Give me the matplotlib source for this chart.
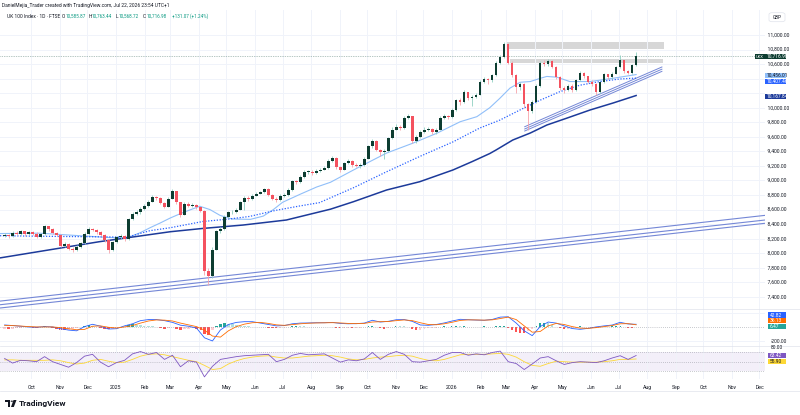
import numpy as np
import pandas as pd
import matplotlib
matplotlib.use("Agg")
import matplotlib.pyplot as plt
import matplotlib.dates as mdates
from matplotlib.patches import Rectangle, Circle, Polygon, FancyBboxPatch
from matplotlib.lines import Line2D

plt.rcParams["font.family"] = ["Roboto", "DejaVu Sans"]

W, H = 800, 415

closes = [
    8250, 8230, 8280, 8270, 8300, 8260, 8290, 8270, 8220, 8260,
    8370, 8330, 8280, 8250, 8100, 8130, 8060, 8050, 8090, 8140,
    8270, 8330, 8320, 8290, 8250, 8180, 8050, 8150, 8220, 8230,
    8190, 8470, 8540, 8560, 8610, 8650, 8710, 8770, 8760, 8690,
    8640, 8750, 8850, 8700, 8530, 8680, 8650, 8660, 8630, 8580,
    7750, 7680, 8050, 8300, 8330, 8500, 8560, 8570, 8600, 8700,
    8760, 8740, 8790, 8820, 8840, 8880, 8800, 8750, 8730, 8790,
    8800, 8870, 8990, 8980, 9050, 9120, 9120, 9100, 9130, 9150,
    9170, 9270, 9310, 9180, 9150, 9240, 9270, 9210, 9200, 9210,
    9300, 9470, 9540, 9420, 9390, 9400, 9580, 9700, 9740, 9720,
    9860, 9880, 9540, 9600, 9670, 9700, 9710, 9660, 9700, 9860,
    9880, 9870, 9970, 10100, 10080, 10210, 10130, 10150, 10180, 10360,
    10390, 10380, 10450, 10620, 10700, 10880, 10620, 10450, 10280, 10330,
    10050, 9950, 10080, 10300, 10620, 10600, 10640, 10560, 10420, 10270,
    10250, 10300, 10240, 10380, 10480, 10430, 10360, 10330, 10210, 10350,
    10460, 10420, 10470, 10560, 10650, 10500, 10480, 10586, 10716.98,
]
highs = [
    8275, 8265, 8300, 8300, 8320, 8310, 8310, 8305, 8285, 8280,
    8390, 8380, 8340, 8295, 8260, 8160, 8145, 8090, 8110, 8160,
    8285, 8360, 8350, 8335, 8300, 8260, 8190, 8170, 8240, 8260,
    8250, 8490, 8560, 8590, 8630, 8680, 8730, 8800, 8790, 8770,
    8700, 8770, 8880, 8860, 8710, 8700, 8700, 8690, 8680, 8640,
    8590, 7800, 8080, 8320, 8360, 8520, 8580, 8600, 8620, 8720,
    8780, 8780, 8810, 8840, 8860, 8900, 8890, 8810, 8770, 8810,
    8830, 8890, 9010, 9010, 9070, 9140, 9150, 9140, 9160, 9170,
    9200, 9290, 9340, 9320, 9200, 9260, 9300, 9280, 9240, 9240,
    9320, 9490, 9570, 9550, 9430, 9430, 9600, 9730, 9770, 9760,
    9880, 9920, 9890, 9630, 9690, 9730, 9740, 9720, 9720, 9880,
    9910, 9900, 9990, 10120, 10130, 10240, 10220, 10180, 10200, 10380,
    10420, 10410, 10470, 10640, 10730, 10910, 10890, 10640, 10460, 10360,
    10340, 10060, 10110, 10320, 10640, 10650, 10670, 10650, 10570, 10430,
    10300, 10330, 10320, 10400, 10510, 10490, 10440, 10380, 10340, 10370,
    10480, 10470, 10490, 10580, 10725, 10660, 10520, 10600, 10763.44,
]
lows = [
    8225, 8215, 8220, 8250, 8255, 8240, 8245, 8250, 8205, 8210,
    8255, 8310, 8260, 8230, 8085, 8080, 8040, 8020, 8030, 8075,
    8130, 8255, 8300, 8270, 8230, 8160, 8000, 8030, 8135, 8200,
    8170, 8180, 8455, 8520, 8540, 8590, 8640, 8700, 8735, 8670,
    8620, 8630, 8740, 8680, 8500, 8520, 8630, 8630, 8610, 8560,
    7700, 7560, 7660, 8040, 8280, 8320, 8480, 8540, 8550, 8590,
    8600, 8720, 8730, 8780, 8810, 8830, 8780, 8730, 8700, 8720,
    8770, 8790, 8860, 8950, 8970, 9040, 9090, 9070, 9090, 9110,
    9140, 9160, 9260, 9160, 9120, 9140, 9230, 9190, 9180, 9170,
    9200, 9290, 9450, 9400, 9330, 9290, 9390, 9570, 9690, 9690,
    9710, 9840, 9510, 9520, 9580, 9650, 9680, 9640, 9640, 9690,
    9840, 9840, 9860, 9960, 10040, 10070, 10100, 10030, 10130, 10170,
    10340, 10330, 10360, 10440, 10600, 10690, 10600, 10420, 10200, 10250,
    10000, 9690, 9930, 10060, 10290, 10570, 10580, 10540, 10400, 10250,
    10200, 10230, 10220, 10230, 10370, 10410, 10340, 10300, 10180, 10200,
    10340, 10390, 10400, 10460, 10550, 10480, 10460, 10470, 10568.72,
]
first_open = 8240

# MACD histogram, one value per sampled bar
macd_hist = [
    -20, -25, -20, -15, -5, 5, 5, -5, -10, 5,
    15, 10, -5, -20, -35, -40, -35, -25, -10, 10,
    25, 33, 25, 10, -10, -25, -30, -20, -10, 5,
    10, 30, 40, 38, 30, 20, 15, 12, 5, -10,
    -25, -15, 5, -20, -40, -30, -20, -15, -20, -40,
    -95, -110, -40, 20, 45, 57, 50, 40, 30, 25,
    20, 12, 10, 8, 5, 5, -5, -12, -15, -10,
    -5, 5, 15, 20, 18, 15, 10, 5, 3, 3,
    5, 10, 10, -5, -15, -15, -10, -15, -15, -5,
    10, 25, 25, 10, -10, -20, -5, 10, 20, 15,
    12, 8, -25, -45, -35, -20, -10, -8, -5, 10,
    12, 8, 15, 25, 20, 22, 10, 5, 3, 10,
    15, 8, 10, 22, 25, 25, -10, -40, -70, -80,
    -85, -60, -30, 20, 55, 66, 55, 35, 10, -10,
    -20, -20, -15, 5, 15, 10, 0, -5, -10, 5,
    10, 8, 15, 22, 25, 5, -10, -12, 6.47,
]
# MACD / signal / RSI / RSI-MA, read at every second sampled bar
macd_line = [
    33, 25, 15, 5, 0, 10, 5, -20, -40, -50,
    10, 43, 15, -25, -20, 20, 50, 95, 110, 110,
    95, 70, 30, 15, -10, -150, -195, -38, 40, 70,
    80, 80, 60, 40, 20, 25, 50, 60, 62, 65,
    65, 70, 55, 50, 52, 60, 100, 75, 85, 108,
    110, 85, 33, 28, 40, 62, 90, 114, 108, 103,
    100, 112, 145, 150, 60, -50, -119, 10, 75, 60,
    20, -18, -29, -15, 5, 20, 32, 71, 47, 42.82,
]
signal_line = [
    28, 24, 18, 10, 5, 5, 5, -5, -20, -35,
    -30, 15, 20, 0, -10, 5, 25, 60, 90, 105,
    102, 90, 60, 35, 10, -40, -125, -140, -50, 10,
    45, 65, 70, 55, 35, 28, 38, 50, 58, 62,
    64, 66, 62, 55, 52, 56, 75, 80, 82, 95,
    105, 95, 65, 40, 36, 50, 72, 98, 106, 105,
    102, 106, 125, 145, 110, 20, -70, -60, 20, 55,
    40, 10, -12, -15, -5, 10, 25, 50, 52, 36.13,
]
rsi_line = [
    57, 47, 53, 52, 50, 61, 50, 44, 38, 48,
    62, 66, 49, 39, 48, 53, 67, 72, 66, 70,
    55, 64, 39, 52, 49, 17, 40, 55, 58, 61,
    63, 64, 65, 66, 50, 55, 64, 68, 65, 66,
    67, 58, 49, 54, 52, 56, 70, 55, 66, 72,
    66, 50, 49, 52, 55, 64, 70, 70, 64, 67,
    65, 70, 73, 50, 46, 33, 45, 58, 61, 52,
    44, 48, 50, 49, 48, 52, 58, 63, 55, 63.42,
]
rsi_ma = [
    54, 54, 53, 53, 53, 53, 54, 52, 48, 45,
    47, 53, 55, 51, 48, 49, 55, 62, 66, 67,
    65, 61, 57, 53, 50, 42, 33, 35, 45, 52,
    57, 60, 62, 63, 60, 58, 58, 60, 62, 63,
    64, 63, 60, 56, 54, 55, 58, 60, 61, 63,
    64, 62, 57, 53, 52, 55, 60, 65, 66, 66,
    66, 67, 68, 66, 60, 50, 42, 40, 46, 51,
    50, 49, 49, 49, 49, 50, 52, 55, 55, 55.90,
]

# moving averages
sma50_dates = ["2024-08-28", "2024-10-10", "2024-11-23", "2024-12-25", "2025-01-13",
               "2025-01-27", "2025-02-07", "2025-02-18", "2025-03-01", "2025-03-15",
               "2025-04-02", "2025-04-13", "2025-04-24", "2025-05-07", "2025-05-27",
               "2025-06-10", "2025-06-21", "2025-07-01", "2025-07-20", "2025-08-07",
               "2025-08-22", "2025-09-16", "2025-10-22", "2025-11-20", "2025-12-16",
               "2026-01-10", "2026-01-28", "2026-02-11", "2026-02-22", "2026-03-05",
               "2026-03-16", "2026-03-27", "2026-04-07", "2026-04-14", "2026-04-25",
               "2026-05-09", "2026-05-31", "2026-06-25", "2026-07-20"]
sma50 = [8270, 8275, 8240, 8215, 8210, 8280, 8350, 8415, 8484, 8560,
         8645, 8600, 8520, 8470, 8465, 8510, 8600, 8700, 8810, 8910,
         8975, 9144, 9377, 9515, 9652, 9808, 9877, 10000, 10130, 10270,
         10350, 10360, 10405, 10430, 10420, 10360, 10360, 10405, 10456.01]

sma100_dates = ["2024-08-28", "2024-11-01", "2024-12-14", "2025-01-13", "2025-02-07",
                "2025-03-01", "2025-04-05", "2025-05-04", "2025-05-26", "2025-06-24",
                "2025-07-20", "2025-08-10", "2025-09-16", "2025-10-22", "2025-11-27",
                "2026-01-02", "2026-01-31", "2026-02-22", "2026-03-16", "2026-04-07",
                "2026-04-28", "2026-05-20", "2026-06-10", "2026-07-02", "2026-07-20"]
sma100 = [8240, 8230, 8225, 8220, 8310, 8350, 8435, 8470, 8505, 8590,
          8650, 8695, 8900, 9120, 9330, 9530, 9720, 9830, 9970, 10105,
          10220, 10310, 10358, 10395, 10407.46]

sma200_dates = ["2024-08-28", "2024-12-14", "2025-03-01", "2025-04-05", "2025-05-19",
                "2025-07-05", "2025-08-22", "2025-09-16", "2025-10-22", "2025-11-27",
                "2026-01-02", "2026-01-23", "2026-02-11", "2026-02-18", "2026-03-08",
                "2026-03-27", "2026-04-14", "2026-05-06", "2026-05-31", "2026-06-25",
                "2026-07-20"]
sma200 = [7935, 8158, 8295, 8340, 8387, 8456, 8605, 8708, 8869, 8983,
          9144, 9260, 9370, 9420, 9556, 9652, 9762, 9858, 9969, 10065, 10167.84]

# drawings: long support channel, short rising lines, supply zones
channel_dates = ["2024-08-28", "2026-12-07"]
channel_lines = [[7341, 8520], [7291, 8456], [7246, 8411]]
rise_dates = ["2026-03-21", "2026-08-17"]
rise_lines = [[9739, 10560], [9708, 10530], [9680, 10500]]
zones = [("2026-03-01", "2026-08-19", 10805, 10908),
         ("2026-03-05", "2026-08-18", 10611, 10672)]

month_ticks = pd.date_range("2024-10-01", "2026-12-01", freq="MS")

UP, UP_WICK = "#0d3d31", "#8fd0c2"
DN, DN_WICK = "#f4525f", "#f7a3a9"
TXT = "#131722"
GRID = "#f0f3fa"

opens = [first_open] + closes[:-1]
o, c = np.array(opens, float), np.array(closes, float)
hi, lo = np.array(highs, float), np.array(lows, float)
dates = pd.to_datetime(np.linspace(pd.Timestamp("2024-09-02").value,
                                   pd.Timestamp("2026-07-20").value, len(closes)))
t = mdates.date2num(dates)
t2 = t[::2]
up = c >= o


def px(x, y):
    return x / W, 1 - y / H


fig = plt.figure(figsize=(W / 100, H / 100), dpi=100)
fig.patch.set_facecolor("white")

ax = fig.add_axes([0, 1 - 309 / H, 765 / W, 299 / H])
macd_ax = fig.add_axes([0, 1 - 346 / H, 765 / W, 37 / H], sharex=ax)
rsi_ax = fig.add_axes([0, 1 - 379 / H, 765 / W, 33 / H], sharex=ax)

xlim = mdates.date2num(pd.to_datetime(["2024-08-28", "2026-12-07"]))
for a in (ax, macd_ax, rsi_ax):
    a.set_facecolor("none")
    for s in a.spines.values():
        s.set_visible(False)
    a.set_xticks(mdates.date2num(month_ticks))
    a.grid(axis="x", color=GRID, lw=0.7)
    a.tick_params(length=0)
    a.set_xlim(*xlim)
ax.tick_params(labelbottom=False, labelleft=False, labelright=False)
macd_ax.tick_params(labelbottom=False, labelleft=False)

# ---- price pane
ax.set_ylim(7232.5, 11343.75)
price_ticks = np.arange(7400, 11001, 200)
ax.set_yticks(price_ticks)
ax.grid(axis="y", color=GRID, lw=0.7)
for p in price_ticks:
    if p in (10400, 10200):  # hidden under the MA price tags
        continue
    ax.text(1.0, p, f"  {p:,.2f}", transform=ax.get_yaxis_transform(),
            fontsize=3.6, color=TXT, va="center", ha="left", clip_on=False)
ax.set_yticklabels([])

for v in channel_lines:
    ax.plot(mdates.date2num(pd.to_datetime(channel_dates)), v, color="#7487d6", lw=0.8, zorder=2)
for v in rise_lines:
    ax.plot(mdates.date2num(pd.to_datetime(rise_dates)), v, color="#7487d6", lw=0.7, zorder=2)
for d0, d1, y0, y1 in zones:
    x0, x1 = mdates.date2num(pd.to_datetime([d0, d1]))
    ax.add_patch(Rectangle((x0, y0), x1 - x0, y1 - y0, fc="#d7d7d7", ec="none", zorder=1))

ax.axhline(closes[-1], color="#6d8f86", lw=0.5, ls=(0, (1, 1.5)), zorder=2)

ax.plot(mdates.date2num(pd.to_datetime(sma50_dates)), sma50, color="#90bff9", lw=0.8, zorder=2)
ax.plot(mdates.date2num(pd.to_datetime(sma100_dates)), sma100, color="#2962ff", lw=0.9,
        ls=(0, (1, 1.3)), zorder=2)
ax.plot(mdates.date2num(pd.to_datetime(sma200_dates)), sma200, color="#1c3a9a", lw=1.1, zorder=2)

ax.vlines(t[up], lo[up], hi[up], color=UP_WICK, lw=0.6, zorder=3)
ax.vlines(t[~up], lo[~up], hi[~up], color=DN_WICK, lw=0.6, zorder=3)
body = np.maximum(np.abs(c - o), 8)
ax.bar(t[up], body[up], bottom=np.minimum(o, c)[up], width=2.7, color=UP, lw=0, zorder=4)
ax.bar(t[~up], body[~up], bottom=np.minimum(o, c)[~up], width=2.7, color=DN, lw=0, zorder=4)

# ---- MACD pane
hist = np.array(macd_hist, float)
hcol = []
for i, hv in enumerate(hist):
    prev = hist[i - 1] if i else hv
    if hv >= 0:
        hcol.append("#26a69a" if hv >= prev else "#b2dfdb")
    else:
        hcol.append("#ffcdd2" if hv >= prev else "#ff5252")
macd_ax.set_ylim(-267, 261)
macd_ax.set_yticks([-200, 200])
macd_ax.grid(axis="y", color=GRID, lw=0.7)
macd_ax.set_yticklabels([])
macd_ax.axhline(0, color="#9598a1", lw=0.5, ls=(0, (1, 2)))
macd_ax.bar(t, hist, width=2.4, color=hcol, lw=0)
macd_ax.plot(t2, macd_line, color="#2962ff", lw=0.6)
macd_ax.plot(t2, signal_line, color="#ff6d00", lw=0.6)

# ---- RSI pane
rsi_ax.set_ylim(12.4, 84.1)
rsi_ax.set_yticks([])
rsi_ax.axhspan(30, 70, color="#7e57c2", alpha=0.09, lw=0)
for lvl in (70, 50, 30):
    rsi_ax.axhline(lvl, color="#9598a1", lw=0.5, ls=(0, (1, 2)))
rsi_ax.plot(t2, rsi_ma, color="#fdd835", lw=0.6)
rsi_ax.plot(t2, rsi_line, color="#7e57c2", lw=0.6)

labels = [d.strftime("%b") if d.month != 1 else str(d.year) for d in month_ticks]
rsi_ax.set_xticklabels(labels)
rsi_ax.tick_params(axis="x", labelsize=3.7, labelcolor=TXT, pad=4)

# pane separators and bottom border
for yy in (309, 346, 391):
    fig.add_artist(Line2D([0, 1], [1 - yy / H] * 2, color="#e0e3eb", lw=0.5))


def tag(y, text, fc, tc, x0=765, x1=786, h=5.2):
    fig.patches.append(Rectangle(px(x0, y + h / 2), (x1 - x0) / W, h / H,
                                 transform=fig.transFigure, fc=fc, ec="none", zorder=5))
    fig.text((x0 + 1.5) / W, 1 - y / H, text, color=tc, fontsize=3.5,
             va="center", ha="left", zorder=6)


fig.patches.append(Rectangle(px(755, 59.2), 10 / W, 5.2 / H, transform=fig.transFigure,
                             fc=UP, ec="none", zorder=5))
fig.text(756 / W, 1 - 56.6 / H, "UKX", color="white", fontsize=3.1, va="center", zorder=6)
tag(56.6, "10,716.98", UP, "white")
tag(75.2, "10,456.01", "#90bff9", TXT)
tag(81.5, "10,407.46", "#2962ff", "white")
tag(96.2, "10,167.84", "#1c3a9a", "white")
tag(315.0, "42.82", "#2962ff", "white", x0=768)
tag(320.8, "36.13", "#ff6d00", "white", x0=768)
tag(326.7, "6.47", "#26a69a", "white", x0=768)
fig.text(771 / W, 1 - 341 / H, "-200.00", fontsize=3.5, color=TXT, va="center")
fig.text(771 / W, 1 - 347.7 / H, "80.00", fontsize=3.5, color=TXT, va="center")
tag(355.2, "63.42", "#7e57c2", "white", x0=768)
tag(361.8, "55.90", "#fdd835", TXT, x0=768)

# GBP box
fig.patches.append(FancyBboxPatch(px(769, 21.7), 16 / W, 9 / H, transform=fig.transFigure,
                                  boxstyle="round,pad=0,rounding_size=0.004",
                                  fc="white", ec="#e0e3eb", lw=0.5, zorder=5))
fig.text(777 / W, 1 - 17.2 / H, "GBP", fontsize=3.3, color=TXT, ha="center", va="center", zorder=6)

# header
fig.text(2 / W, 1 - 5 / H,
         "DanielMejia_Trader created with TradingView.com, Jul 22, 2026 23:54 UTC+1",
         fontsize=3.5, color=TXT, va="center")
fig.text(7 / W, 1 - 16 / H, "UK 100 Index \u00b7 1D \u00b7 FTSE", fontsize=3.5, color=TXT, va="center")
green = "#089981"
for xl, letter, val in [(62, "O", "10,585.87"), (88.5, "H", "10,763.44"),
                        (115.5, "L", "10,568.72"), (143, "C", "10,716.98")]:
    fig.text(xl / W, 1 - 16 / H, letter, fontsize=3.5, color=TXT, va="center")
    fig.text((xl + 3.3) / W, 1 - 16 / H, val, fontsize=3.3, color=green, va="center")
fig.text(172.5 / W, 1 - 16 / H, "+131.07 (+1.24%)", fontsize=3.3, color=green, va="center")

# TradingView logo
logo = [Rectangle(px(5, 402), 5 / W, 2.2 / H), Rectangle(px(7.8, 407), 2.2 / W, 7 / H),
        Circle(px(11.8, 401.2), 1.2 / W),
        Polygon([px(13.5, 400), px(16.5, 400), px(13.8, 407), px(11, 407)])]
for p in logo:
    p.set_transform(fig.transFigure)
    p.set_facecolor(TXT)
    p.set_edgecolor("none")
    fig.patches.append(p)
fig.text(18.5 / W, 1 - 403.5 / H, "TradingView", fontsize=6, fontweight="bold",
         color=TXT, va="center")

fig.savefig("out.png", dpi=100, facecolor="white")
